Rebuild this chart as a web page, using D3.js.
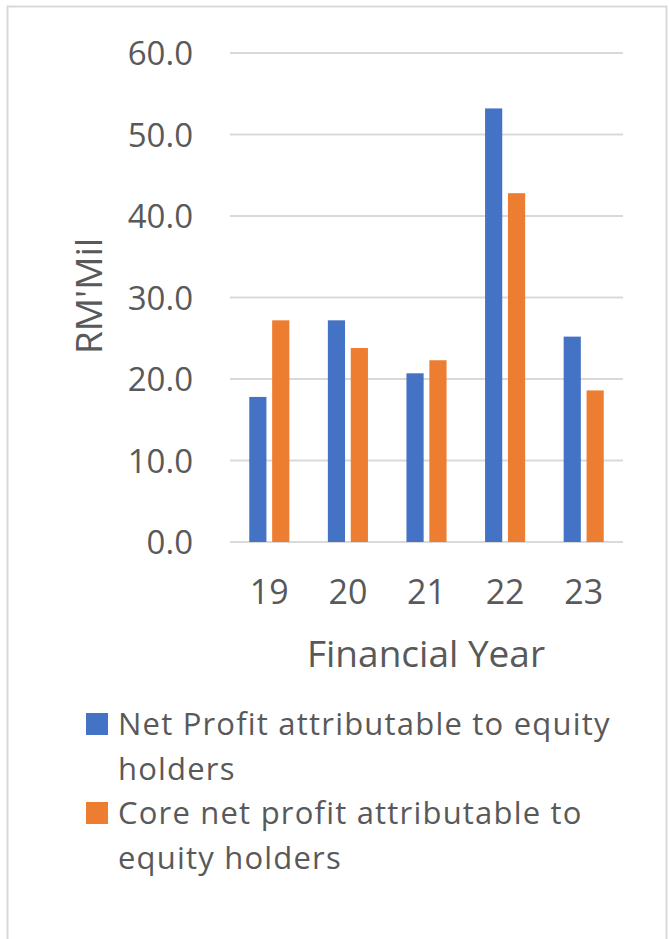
<!DOCTYPE html>
<html>
<head>
<meta charset="utf-8">
<script src="https://cdn.jsdelivr.net/npm/d3@7"></script>
<style>
  body { margin: 0; background: #fff; }
  text { font-family: "Open Sans", sans-serif; fill: #595959; }
</style>
</head>
<body>
<div class="chart"></div>
<script>
var years = ["19", "20", "21", "22", "23"];
var netProfit = [17.8, 27.2, 20.7, 53.2, 25.2];
var coreNetProfit = [27.2, 23.8, 22.3, 42.8, 18.6];
var seriesNames = ["Net Profit attributable to equity holders", "Core net profit attributable to equity holders"];
var legendLines = [["Net Profit attributable to equity", "holders"], ["Core net profit attributable to", "equity holders"]];
var colors = ["#4472c4", "#ed7d31"];
var yTicks = [0, 10, 20, 30, 40, 50, 60];

var svgWidth = 669;
var svgHeight = 939;

var plot = { left: 230, right: 623, top: 53, bottom: 542 };

var svg = d3.select(".chart")
  .append("svg")
  .attr("width", svgWidth)
  .attr("height", svgHeight);

// chart area border
svg.append("rect")
  .attr("x", 7.5)
  .attr("y", 6.5)
  .attr("width", 659)
  .attr("height", 940)
  .attr("fill", "none")
  .attr("stroke", "#d9d9d9")
  .attr("stroke-width", 2);

var x0 = d3.scaleBand()
  .domain(years)
  .range([plot.left, plot.right])
  .paddingInner(0.49)
  .paddingOuter(0.245);

var x1 = d3.scaleBand()
  .domain([0, 1])
  .range([0, x0.bandwidth()])
  .paddingInner(0.25);

var y = d3.scaleLinear()
  .domain([0, 60])
  .range([plot.bottom, plot.top]);

// y axis labels
var leftAxis = d3.axisLeft(y)
  .tickValues(yTicks)
  .tickSize(0)
  .tickPadding(37)
  .tickFormat(d3.format(".1f"));

var yAxisG = svg.append("g")
  .attr("transform", `translate(${plot.left}, 0)`)
  .call(leftAxis);
yAxisG.select(".domain").remove();
yAxisG.selectAll("text")
  .attr("font-size", 33)
  .attr("dy", "0.36em")
  .attr("font-family", "Open Sans")
  .attr("fill", "#595959");

// gridlines
svg.append("g")
  .selectAll("line")
  .data(yTicks)
  .enter()
  .append("line")
  .attr("x1", plot.left)
  .attr("x2", plot.right)
  .attr("y1", function(d) { return y(d); })
  .attr("y2", function(d) { return y(d); })
  .attr("stroke", "#d9d9d9")
  .attr("stroke-width", 2);

// bars
var series = [netProfit, coreNetProfit];
series.forEach(function(vals, si) {
  svg.append("g")
    .selectAll("rect")
    .data(vals)
    .enter()
    .append("rect")
    .attr("x", function(d, i) { return x0(years[i]) + x1(si); })
    .attr("y", function(d) { return y(d); })
    .attr("width", x1.bandwidth())
    .attr("height", function(d) { return y(0) - y(d); })
    .attr("fill", colors[si]);
});

// x axis labels
var bottomAxis = d3.axisBottom(x0).tickSize(0).tickPadding(38);
var xAxisG = svg.append("g")
  .attr("transform", `translate(0, ${plot.bottom})`)
  .call(bottomAxis);
xAxisG.select(".domain").remove();
xAxisG.selectAll("text")
  .attr("font-size", 34)
  .attr("font-family", "Open Sans")
  .attr("fill", "#595959");

// axis titles
svg.append("text")
  .attr("x", 426)
  .attr("y", 667)
  .attr("text-anchor", "middle")
  .attr("font-size", 37)
  .text("Financial Year");

svg.append("text")
  .attr("transform", "translate(102, 296) rotate(-90)")
  .attr("text-anchor", "middle")
  .attr("font-size", 37)
  .text("RM'Mil");

// legend
var legend = svg.append("g")
  .selectAll("g")
  .data(seriesNames)
  .enter()
  .append("g")
  .attr("transform", function(d, i) { return `translate(86, ${i * 89 + 713})`; });

legend.append("rect")
  .attr("width", 22)
  .attr("height", 22)
  .attr("fill", function(d, i) { return colors[i]; });

legend.append("text")
  .attr("x", 32)
  .attr("y", 22)
  .attr("font-size", 31)
  .attr("letter-spacing", 1.2)
  .selectAll("tspan")
  .data(function(d, i) { return legendLines[i]; })
  .enter()
  .append("tspan")
  .attr("x", 32)
  .attr("dy", function(d, j) { return j === 0 ? 0 : 45; })
  .text(function(d) { return d; });
</script>
</body>
</html>
